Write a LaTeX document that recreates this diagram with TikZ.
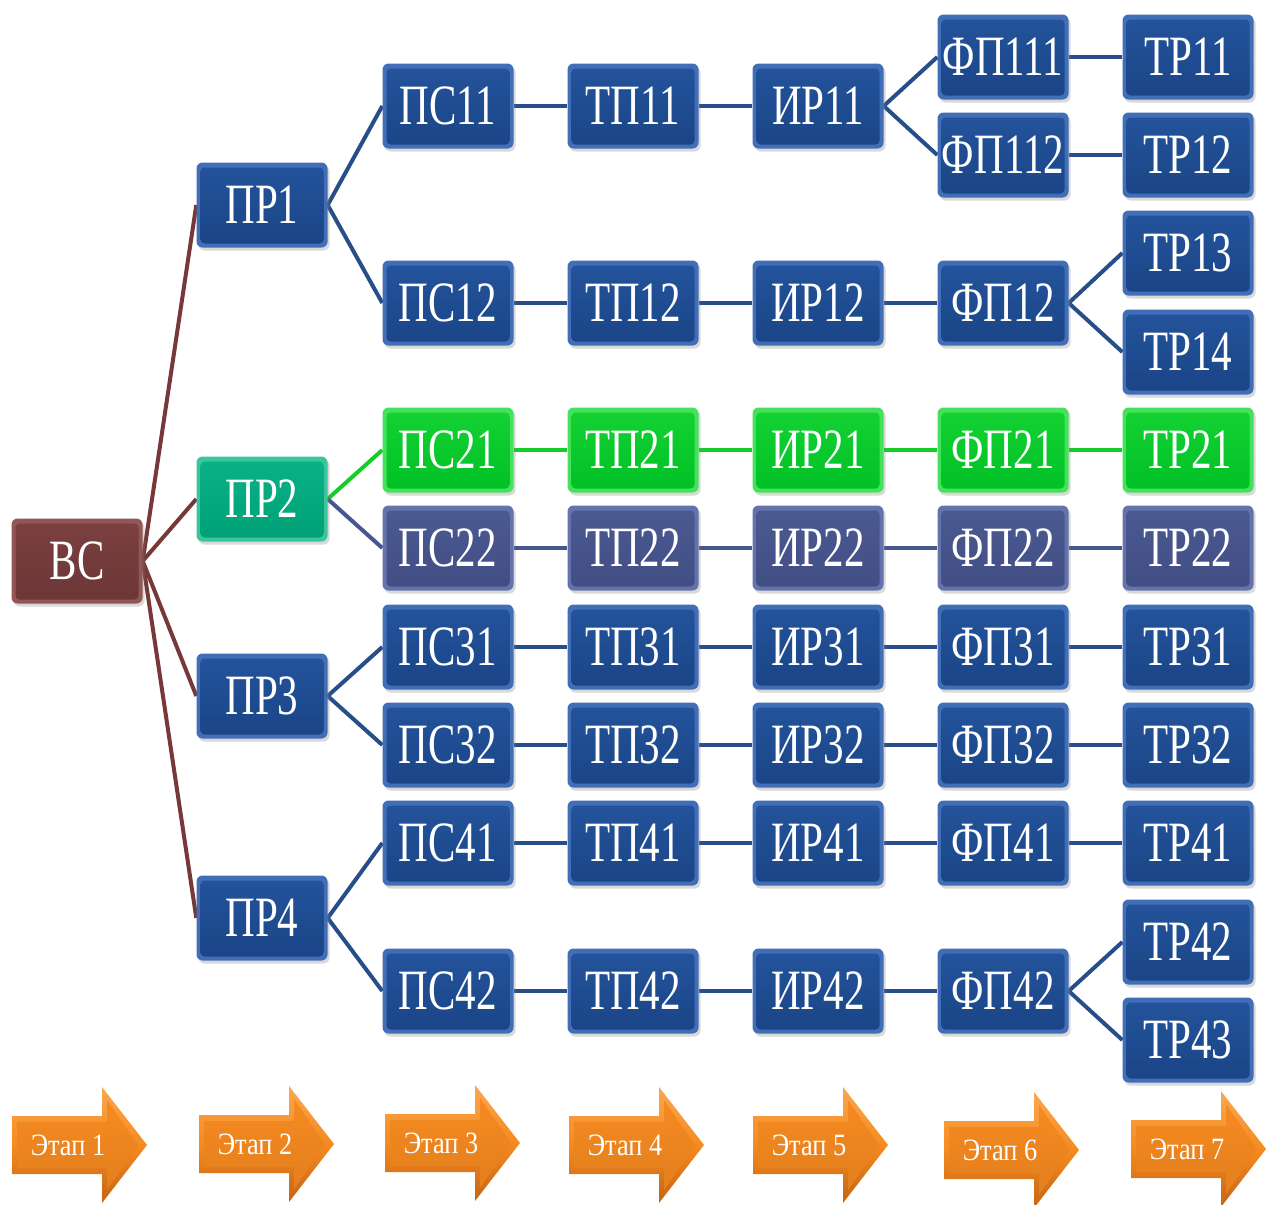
\documentclass[tikz,border=0pt]{standalone}
\usepackage{fontspec}
\usetikzlibrary{shadows,backgrounds}
\newfontfamily\boxfont{Liberation Serif}
% narrow setting of the box and stage labels
\newcommand\boxlbl[1]{\scalebox{0.72}[1]{#1}}
\newcommand\stagelbl[1]{\scalebox{0.85}[1]{#1}}

% box palettes: bevel edge, face top, face bottom
\definecolor{blueEdge}{RGB}{66,110,184}
\definecolor{blueFace}{RGB}{36,84,156}
\definecolor{blueDeep}{RGB}{26,68,134}
\definecolor{greenEdge}{RGB}{70,225,90}
\definecolor{greenFace}{RGB}{20,210,50}
\definecolor{greenDeep}{RGB}{0,192,38}
\definecolor{tealEdge}{RGB}{60,196,156}
\definecolor{tealFace}{RGB}{10,178,135}
\definecolor{tealDeep}{RGB}{0,160,118}
\definecolor{brownEdge}{RGB}{146,86,86}
\definecolor{brownFace}{RGB}{124,64,64}
\definecolor{brownDeep}{RGB}{108,54,54}
\definecolor{slateEdge}{RGB}{100,115,172}
\definecolor{slateFace}{RGB}{76,90,146}
\definecolor{slateDeep}{RGB}{64,78,132}
% connector colours
\definecolor{lnBlue}{RGB}{40,78,138}
\definecolor{lnBrown}{RGB}{118,56,56}
\definecolor{lnGreen}{RGB}{20,205,40}
\definecolor{lnSlate}{RGB}{70,86,142}
% stage arrows
\definecolor{orLight}{RGB}{250,168,80}
\definecolor{orMid}{RGB}{246,138,32}
\definecolor{orDark}{RGB}{196,100,20}

\tikzset{
  bx/.style n args={3}{rounded corners=6pt, minimum width=131pt, minimum height=85pt,
    inner sep=0pt, text=white, text height=37pt, text depth=0pt,
    font=\boxfont\fontsize{57}{60}\selectfont, fill=#1,
    drop shadow={opacity=0.3, shadow xshift=2pt, shadow yshift=-3pt},
    path picture={\shade[top color=#2, bottom color=#3, rounded corners=4pt]
      ([xshift=4pt,yshift=-5pt]path picture bounding box.north west) rectangle
      ([xshift=-4pt,yshift=4pt]path picture bounding box.south east);}},
  bluebox/.style={bx={blueEdge}{blueFace}{blueDeep}},
  greenbox/.style={bx={greenEdge}{greenFace}{greenDeep}},
  tealbox/.style={bx={tealEdge}{tealFace}{tealDeep}},
  brownbox/.style={bx={brownEdge}{brownFace}{brownDeep}},
  slatebox/.style={bx={slateEdge}{slateFace}{slateDeep}},
  link/.style={line width=4pt, draw=#1},
  stageouter/.style={top color=orLight, bottom color=orDark, middle color=orMid},
  stageinner/.style={top color=orMid, bottom color=orMid!92!black},
  stagetext/.style={text=white, inner sep=0pt, font=\boxfont\fontsize{31}{34}\selectfont}
}

% stage arrow: name, left x, centre y, label
\newcommand\stagearrow[4]{%
  \path[stageouter] (#2,#3-29) -- (#2+90,#3-29) -- (#2+90,#3-58) -- (#2+135,#3)
    -- (#2+90,#3+58) -- (#2+90,#3+29) -- (#2,#3+29) -- cycle;
  \path[stageinner] (#2+5,#3-23) -- (#2+95,#3-23) -- (#2+95,#3-45) -- (#2+126,#3)
    -- (#2+95,#3+45) -- (#2+95,#3+23) -- (#2+5,#3+23) -- cycle;
  \node[stagetext] (#1) at (#2+56,#3) {\stagelbl{#4}};
}

\begin{document}
\begin{tikzpicture}[x=1pt, y=-1pt]
\useasboundingbox (0,0) rectangle (1267,1205);

% root and branches
\node[brownbox] (BC) at (77,561) {\boxlbl{ВС}};
\node[bluebox] (PR1) at (262,205) {\boxlbl{ПР1}};
\node[tealbox] (PR2) at (262,499) {\boxlbl{ПР2}};
\node[bluebox] (PR3) at (262,696) {\boxlbl{ПР3}};
\node[bluebox] (PR4) at (262,918) {\boxlbl{ПР4}};

% chain 1
\node[bluebox] (PS11) at (448,106) {\boxlbl{ПС11}};
\node[bluebox] (TP11) at (633,106) {\boxlbl{ТП11}};
\node[bluebox] (IR11) at (818,106) {\boxlbl{ИР11}};
\node[bluebox] (FP111) at (1003,57) {\boxlbl{ФП111}};
\node[bluebox] (FP112) at (1003,155) {\boxlbl{ФП112}};
\node[bluebox] (TR11) at (1188,57) {\boxlbl{ТР11}};
\node[bluebox] (TR12) at (1188,155) {\boxlbl{ТР12}};

\node[bluebox] (PS12) at (448,303) {\boxlbl{ПС12}};
\node[bluebox] (TP12) at (633,303) {\boxlbl{ТП12}};
\node[bluebox] (IR12) at (818,303) {\boxlbl{ИР12}};
\node[bluebox] (FP12) at (1003,303) {\boxlbl{ФП12}};
\node[bluebox] (TR13) at (1188,253) {\boxlbl{ТР13}};
\node[bluebox] (TR14) at (1188,352) {\boxlbl{ТР14}};

% chain 2
\node[greenbox] (PS21) at (448,450) {\boxlbl{ПС21}};
\node[greenbox] (TP21) at (633,450) {\boxlbl{ТП21}};
\node[greenbox] (IR21) at (818,450) {\boxlbl{ИР21}};
\node[greenbox] (FP21) at (1003,450) {\boxlbl{ФП21}};
\node[greenbox] (TR21) at (1188,450) {\boxlbl{ТР21}};

\node[slatebox] (PS22) at (448,548) {\boxlbl{ПС22}};
\node[slatebox] (TP22) at (633,548) {\boxlbl{ТП22}};
\node[slatebox] (IR22) at (818,548) {\boxlbl{ИР22}};
\node[slatebox] (FP22) at (1003,548) {\boxlbl{ФП22}};
\node[slatebox] (TR22) at (1188,548) {\boxlbl{ТР22}};

% chain 3
\node[bluebox] (PS31) at (448,647) {\boxlbl{ПС31}};
\node[bluebox] (TP31) at (633,647) {\boxlbl{ТП31}};
\node[bluebox] (IR31) at (818,647) {\boxlbl{ИР31}};
\node[bluebox] (FP31) at (1003,647) {\boxlbl{ФП31}};
\node[bluebox] (TR31) at (1188,647) {\boxlbl{ТР31}};

\node[bluebox] (PS32) at (448,745) {\boxlbl{ПС32}};
\node[bluebox] (TP32) at (633,745) {\boxlbl{ТП32}};
\node[bluebox] (IR32) at (818,745) {\boxlbl{ИР32}};
\node[bluebox] (FP32) at (1003,745) {\boxlbl{ФП32}};
\node[bluebox] (TR32) at (1188,745) {\boxlbl{ТР32}};

% chain 4
\node[bluebox] (PS41) at (448,843) {\boxlbl{ПС41}};
\node[bluebox] (TP41) at (633,843) {\boxlbl{ТП41}};
\node[bluebox] (IR41) at (818,843) {\boxlbl{ИР41}};
\node[bluebox] (FP41) at (1003,843) {\boxlbl{ФП41}};
\node[bluebox] (TR41) at (1188,843) {\boxlbl{ТР41}};

\node[bluebox] (PS42) at (448,991) {\boxlbl{ПС42}};
\node[bluebox] (TP42) at (633,991) {\boxlbl{ТП42}};
\node[bluebox] (IR42) at (818,991) {\boxlbl{ИР42}};
\node[bluebox] (FP42) at (1003,991) {\boxlbl{ФП42}};
\node[bluebox] (TR42) at (1188,942) {\boxlbl{ТР42}};
\node[bluebox] (TR43) at (1188,1040) {\boxlbl{ТР43}};

% connectors
\begin{scope}[on background layer]
  \foreach \p in {PR1,PR2,PR3,PR4}
    \draw[link=lnBrown] (BC.east) -- (\p.west);

  \draw[link=lnBlue] (PR1.east) -- (PS11.west);
  \draw[link=lnBlue] (PR1.east) -- (PS12.west);
  \draw[link=lnBlue] (PS11.east) -- (TP11.west);
  \draw[link=lnBlue] (TP11.east) -- (IR11.west);
  \draw[link=lnBlue] (IR11.east) -- (FP111.west);
  \draw[link=lnBlue] (IR11.east) -- (FP112.west);
  \draw[link=lnBlue] (FP111.east) -- (TR11.west);
  \draw[link=lnBlue] (FP112.east) -- (TR12.west);
  \draw[link=lnBlue] (PS12.east) -- (TP12.west);
  \draw[link=lnBlue] (TP12.east) -- (IR12.west);
  \draw[link=lnBlue] (IR12.east) -- (FP12.west);
  \draw[link=lnBlue] (FP12.east) -- (TR13.west);
  \draw[link=lnBlue] (FP12.east) -- (TR14.west);

  \draw[link=lnGreen] (PR2.east) -- (PS21.west);
  \draw[link=lnGreen] (PS21.east) -- (TP21.west);
  \draw[link=lnGreen] (TP21.east) -- (IR21.west);
  \draw[link=lnGreen] (IR21.east) -- (FP21.west);
  \draw[link=lnGreen] (FP21.east) -- (TR21.west);

  \draw[link=lnSlate] (PR2.east) -- (PS22.west);
  \draw[link=lnSlate] (PS22.east) -- (TP22.west);
  \draw[link=lnSlate] (TP22.east) -- (IR22.west);
  \draw[link=lnSlate] (IR22.east) -- (FP22.west);
  \draw[link=lnSlate] (FP22.east) -- (TR22.west);

  \foreach \r in {31,32,41} {
    \draw[link=lnBlue] (PS\r.east) -- (TP\r.west);
    \draw[link=lnBlue] (TP\r.east) -- (IR\r.west);
    \draw[link=lnBlue] (IR\r.east) -- (FP\r.west);
    \draw[link=lnBlue] (FP\r.east) -- (TR\r.west);
  }
  \draw[link=lnBlue] (PR3.east) -- (PS31.west);
  \draw[link=lnBlue] (PR3.east) -- (PS32.west);
  \draw[link=lnBlue] (PR4.east) -- (PS41.west);
  \draw[link=lnBlue] (PR4.east) -- (PS42.west);
  \draw[link=lnBlue] (PS42.east) -- (TP42.west);
  \draw[link=lnBlue] (TP42.east) -- (IR42.west);
  \draw[link=lnBlue] (IR42.east) -- (FP42.west);
  \draw[link=lnBlue] (FP42.east) -- (TR42.west);
  \draw[link=lnBlue] (FP42.east) -- (TR43.west);
\end{scope}

% stage arrows
\stagearrow{E1}{12}{1145}{Этап 1}
\stagearrow{E2}{199}{1144}{Этап 2}
\stagearrow{E3}{385}{1143}{Этап 3}
\stagearrow{E4}{569}{1145}{Этап 4}
\stagearrow{E5}{753}{1145}{Этап 5}
\stagearrow{E6}{944}{1150}{Этап 6}
\stagearrow{E7}{1131}{1149}{Этап 7}
\end{tikzpicture}
\end{document}
